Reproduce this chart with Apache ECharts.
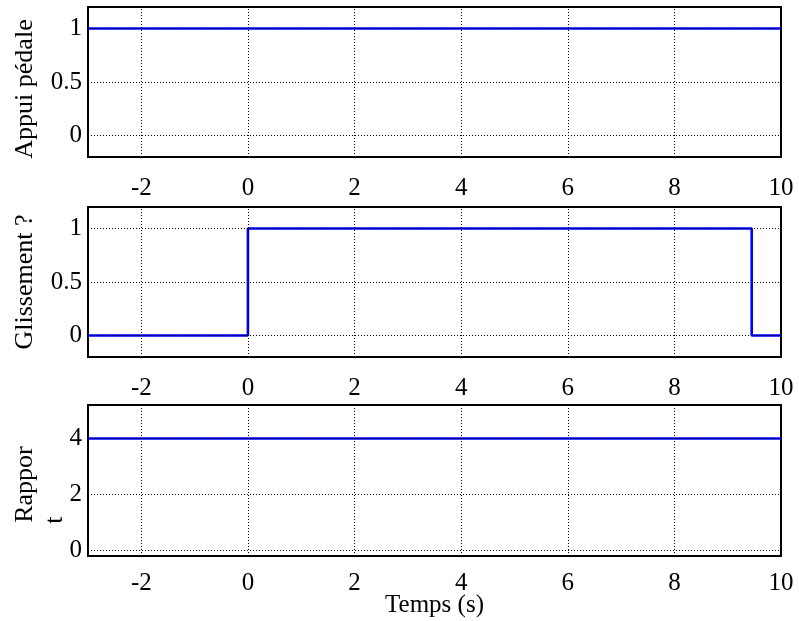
<!DOCTYPE html>
<html>
<head>
<meta charset="utf-8">
<script src="https://cdn.jsdelivr.net/npm/echarts@6/dist/echarts.min.js"></script>
<style>html,body{margin:0;padding:0;background:#fff}#c{width:799px;height:621px}</style>
</head>
<body>
<div id="c"></div>
<script>
// ---- data ----
const xTicks = [-2, 0, 2, 4, 6, 8, 10];
const pedaleTicks = [0, 0.5, 1];
const glisTicks = [0, 0.5, 1];
const rapportTicks = [0, 2, 4];

const pedaleTimes = [-3, 10];
const pedaleValues = [1, 1];
const glisTimes = [-3, 0, 9.45, 10];
const glisValues = [0, 1, 0, 0];
const rapportTimes = [-3, 10];
const rapportValues = [4, 4];

const yLabels = ['Appui pédale', 'Glissement ?', 'Rappor\nt' ];
const xLabel = 'Temps (s)';

// ---- build ----
const FONT = 'Liberation Serif';
const near = (v, arr) => arr.some(t => Math.abs(t - v) < 1e-6);
const pairs = (xs, ys) => xs.map((x, i) => [x, ys[i]]);

const grids = [
  {left: 88, right: 18, top: 7, height: 150},
  {left: 88, right: 18, top: 207, height: 150},
  {left: 88, right: 18, top: 405, height: 151}
].map(g => Object.assign(g, {show: true, borderColor: '#000', borderWidth: 2, backgroundColor: 'transparent',
  containLabel: false, outerBoundsMode: 'none'}));

const yCfg = [
  {min: -0.2, max: 1.2, interval: 0.1, ticks: pedaleTicks, data: pairs(pedaleTimes, pedaleValues), gap: 48, step: false},
  {min: -0.2, max: 1.2, interval: 0.1, ticks: glisTicks, data: pairs(glisTimes, glisValues), gap: 48, step: 'end'},
  {min: -0.2, max: 5.2, interval: 0.2, ticks: rapportTicks, data: pairs(rapportTimes, rapportValues), gap: 18, step: false}
];

const xAxes = grids.map((g, i) => ({
  type: 'value', gridIndex: i, min: -3, max: 10, interval: 1,
  axisLine: {show: false}, axisTick: {show: false}, splitLine: {show: false},
  axisLabel: {color: '#000', fontFamily: FONT, fontSize: 25, margin: i === 2 ? 15 : 19,
    formatter: v => near(v, xTicks) ? String(Math.round(v)) : ''},
  name: i === 2 ? xLabel : '', nameLocation: 'middle', nameGap: 37, nameMoveOverlap: false,
  nameTextStyle: {color: '#000', fontFamily: FONT, fontSize: 25}
}));

const yAxes = yCfg.map((c, i) => ({
  type: 'value', gridIndex: i, min: c.min, max: c.max, interval: c.interval,
  axisLine: {show: false}, axisTick: {show: false}, splitLine: {show: false},
  axisLabel: {color: '#000', fontFamily: FONT, fontSize: 25, margin: 6,
    formatter: v => near(v, c.ticks) ? String(Math.round(v * 10) / 10) : ''},
  name: i === 2 ? 'Rappor\nt' + '\u00a0'.repeat(11) : yLabels[i],
  nameLocation: 'middle', nameGap: c.gap, nameMoveOverlap: false,
  nameTextStyle: {color: '#000', fontFamily: FONT, fontSize: 26, lineHeight: 30,
    padding: i === 0 ? [0, 14, 0, 0] : (i === 2 ? [0, 8, 0, 0] : 0)}
}));

const series = [];
yCfg.forEach((c, i) => {
  series.push({
    type: 'line', xAxisIndex: i, yAxisIndex: i, data: c.data, z: 1,
    symbol: 'none', lineStyle: {width: 0, opacity: 0}, silent: true,
    markLine: {
      silent: true, symbol: 'none', label: {show: false}, animation: false,
      lineStyle: {color: '#000', type: [1, 2], width: 1},
      data: xTicks.map(v => ({xAxis: v})).concat(c.ticks.map(v => ({yAxis: v})))
    }
  });
  series.push({
    type: 'line', xAxisIndex: i, yAxisIndex: i, data: c.data, z: 3,
    step: c.step, symbol: 'none', lineStyle: {color: '#0000ff', width: 2.6}
  });
});

const chart = echarts.init(document.getElementById('c'), null, {renderer: 'canvas'});
chart.setOption({
  animation: false,
  grid: grids, xAxis: xAxes, yAxis: yAxes, series: series
});
</script>
</body>
</html>
